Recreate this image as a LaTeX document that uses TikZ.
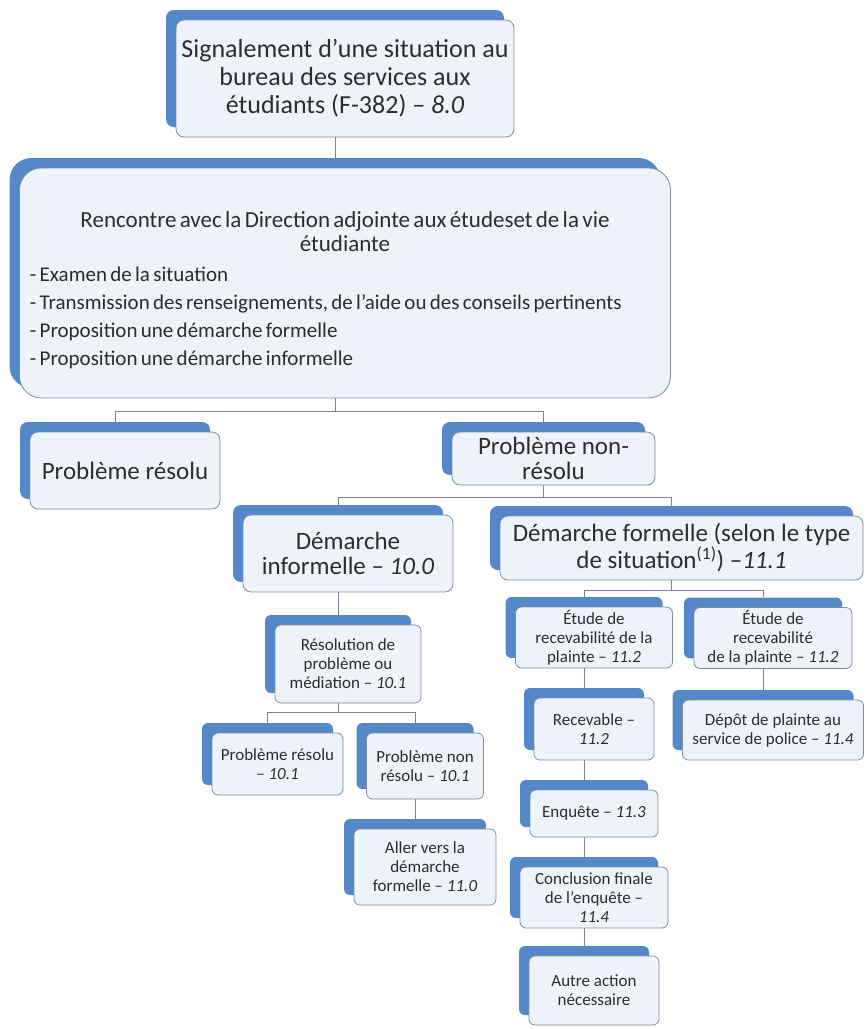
\documentclass[tikz,border=0pt]{standalone}
\usepackage{fontspec}
\setmainfont{Carlito}
\usetikzlibrary{shadows}

\definecolor{boxblue}{RGB}{84,136,200}
\definecolor{boxfill}{RGB}{238,242,249}
\definecolor{boxline}{RGB}{128,140,158}
\definecolor{linkgray}{RGB}{120,132,150}
\definecolor{textgray}{RGB}{45,45,45}

\begin{document}
\begin{tikzpicture}[x=1pt,y=-1pt,
  box/.style={draw=boxline, fill=boxfill, line width=0.8pt, rounded corners=8pt,
    align=center, inner sep=3pt, text=textgray,
    general shadow={shadow xshift=-10pt, shadow yshift=10pt, fill=boxblue}},
  big/.style={box, font=\fontsize{26}{28}\selectfont},
  mid/.style={box, font=\fontsize{25}{25}\selectfont},
  small/.style={box, rounded corners=6pt, font=\fontsize{17}{19}\selectfont},
  link/.style={draw=linkgray, line width=0.8pt}]

  % white page with the size of the reference
  \fill [white] (0,0) rectangle (867,1029);
  \useasboundingbox (0,0) rectangle (867,1029);

  % first report
  \node [big, minimum width=338pt, minimum height=117pt] (sig) at (345,78.5)
    {Signalement d’une situation au\\ bureau des services aux\\ étudiants (F-382) – \textit{8.0}};

  % meeting with the direction
  \node [box, rounded corners=22pt, minimum width=651pt, minimum height=230pt,
         text width=630pt, align=left] (renc) at (345,283)
    {{\centering\fontsize{23}{24}\selectfont\rule{0pt}{30pt}Rencontre avec la Direction adjointe aux étudeset de la vie\\ étudiante\par}
     \vspace{2pt}
     {\fontsize{21}{28}\selectfont - Examen de la situation\\
      - Transmission des renseignements, de l’aide ou des conseils pertinents\\
      - Proposition une démarche formelle\\
      - Proposition une démarche informelle\par}};

  % first level of outcomes
  \node [mid, minimum width=190pt, minimum height=77pt] (res) at (125,470.5) {Problème résolu};
  \node [mid, minimum width=203pt, minimum height=53pt] (nonres) at (553.5,458.5) {Problème non-\\ résolu};

  % the two ways
  \node [mid, minimum width=210pt, minimum height=77pt] (inf) at (348,553.5)
    {Démarche\\ informelle – \textit{10.0}};
  \node [mid, minimum width=363pt, minimum height=64pt] (form) at (681.5,548)
    {Démarche formelle (selon le type\\ de situation\textsuperscript{(1)}) –\textit{11.1}};

  % informal way
  \node [small, minimum width=146pt, minimum height=78pt] (medi) at (348,664)
    {Résolution de\\ problème ou\\ médiation – \textit{10.1}};
  \node [small, minimum width=131pt, minimum height=62pt] (resB) at (277.5,764)
    {Problème résolu\\ – \textit{10.1}};
  \node [small, minimum width=117pt, minimum height=66pt] (nonresB) at (425,766)
    {Problème non\\ résolu – \textit{10.1}};
  \node [small, minimum width=142pt, minimum height=76pt] (aller) at (425,867)
    {Aller vers la\\ démarche\\ formelle – \textit{11.0}};

  % formal way
  \node [small, minimum width=157pt, minimum height=59pt] (etudeA) at (594,637.5)
    {Étude de\\ recevabilité de la\\ plainte – \textit{11.2}};
  \node [small, minimum width=158pt, minimum height=60pt] (etudeB) at (773,638)
    {Étude de\\ recevabilité\\ de la plainte – \textit{11.2}};
  \node [small, minimum width=120pt, minimum height=62pt] (recev) at (594,729)
    {Recevable –\\ \textit{11.2}};
  \node [small, minimum width=181pt, minimum height=60pt] (depot) at (773,730)
    {Dépôt de plainte au\\ service de police – \textit{11.4}};
  \node [small, minimum width=128pt, minimum height=47pt] (enquete) at (594,813.5)
    {Enquête – \textit{11.3}};
  \node [small, minimum width=148pt, minimum height=61pt] (concl) at (594,897.5)
    {Conclusion finale\\ de l’enquête –\\ \textit{11.4}};
  \node [small, minimum width=130pt, minimum height=69pt] (autre) at (594,990.5)
    {Autre action\\ nécessaire};

  % straight links
  \foreach \a/\b in {sig/renc, inf/medi, nonresB/aller, etudeA/recev,
                     recev/enquete, enquete/concl, concl/autre, etudeB/depot}
    \draw [link] ([xshift=-10pt]\a.south) -- ([shift={(-10pt,10pt)}]\b.north);

  % forked links
  \foreach \a/\b/\d in {renc/res/13, renc/nonres/13, nonres/inf/12, nonres/form/12,
                        form/etudeA/10, form/etudeB/10, medi/resB/9, medi/nonresB/9}
    \draw [link] ([xshift=-10pt]\a.south) -- ++(0,\d) -| ([shift={(-10pt,10pt)}]\b.north);

\end{tikzpicture}
\end{document}
